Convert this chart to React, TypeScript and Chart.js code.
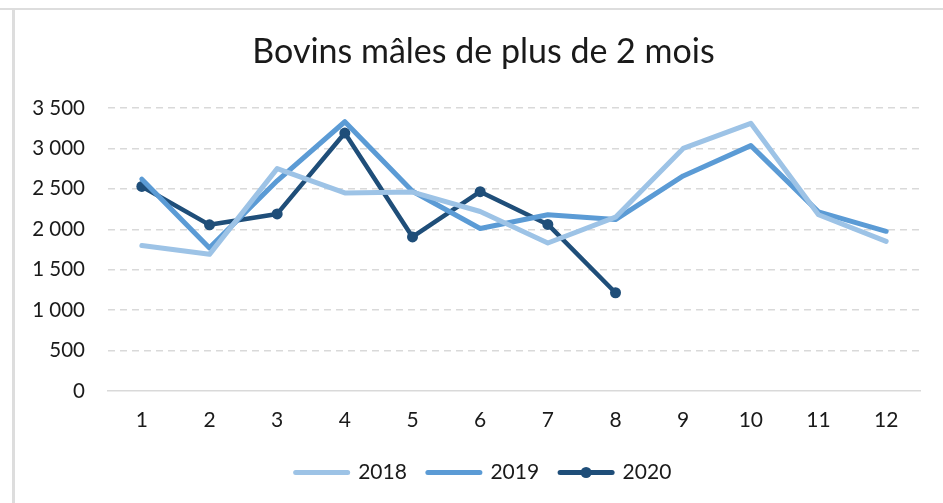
import React, { useEffect, useRef } from "react";
import { Chart, registerables } from "chart.js";

Chart.register(...registerables);

const categories = ["1", "2", "3", "4", "5", "6", "7", "8", "9", "10", "11", "12"];
const series2018 = [1800, 1690, 2750, 2450, 2460, 2220, 1830, 2150, 3000, 3310, 2180, 1850];
const series2019 = [2620, 1770, 2600, 3330, 2470, 2010, 2180, 2120, 2660, 3035, 2215, 1975];
const series2020 = [2530, 2055, 2190, 3190, 1905, 2465, 2060, 1215];
const seriesLabels = ["2018", "2019", "2020"];
const seriesColors = ["#9DC3E6", "#5B9BD5", "#1F4E79"];
const titleText = "Bovins mâles de plus de 2 mois";

const FONT = "Lato, 'Open Sans', sans-serif";
const TEXT = "#1a1a1a";
const CENTER_SHIFT = 47;

const fmt = (v: number) => String(v).replace(/\B(?=(\d{3})+(?!\d))/g, " ");

const recenter = {
  id: "recenter",
  afterLayout(chart: any) {
    if (chart.titleBlock) chart.titleBlock.left += CENTER_SHIFT;
    if (chart.legend) chart.legend.left += CENTER_SHIFT;
  },
  afterDraw(chart: any) {
    const legend = chart.legend;
    if (!legend || !legend.legendHitBoxes) return;
    const box = legend.legendHitBoxes[2];
    if (!box) return;
    const lab = legend.options.labels;
    const bw = lab.pointStyleWidth;
    const cy = legend.top + lab.padding + box.height / 2;
    const ctx = chart.ctx;
    ctx.save();
    ctx.fillStyle = seriesColors[2];
    ctx.beginPath();
    ctx.arc(box.left + bw / 2, cy, 5.5, 0, Math.PI * 2);
    ctx.fill();
    ctx.restore();
  },
};

export default function App() {
  const ref = useRef<HTMLCanvasElement | null>(null);
  useEffect(() => {
    if (!ref.current) return;
    const chart = new Chart(ref.current, {
      type: "line",
      data: {
        labels: categories,
        datasets: [
          {
            label: seriesLabels[0],
            data: series2018,
            borderColor: seriesColors[0],
            backgroundColor: seriesColors[0],
            borderWidth: 5,
            pointRadius: 0,
            borderCapStyle: "round",
            borderJoinStyle: "round",
          },
          {
            label: seriesLabels[1],
            data: series2019,
            borderColor: seriesColors[1],
            backgroundColor: seriesColors[1],
            borderWidth: 5,
            pointRadius: 0,
            borderCapStyle: "round",
            borderJoinStyle: "round",
          },
          {
            label: seriesLabels[2],
            data: series2020,
            borderColor: seriesColors[2],
            backgroundColor: seriesColors[2],
            borderWidth: 4.5,
            pointRadius: 5.5,
            pointBorderWidth: 0,
            pointBackgroundColor: seriesColors[2],
            pointStyle: "circle",
            borderCapStyle: "round",
            borderJoinStyle: "round",
          },
        ],
      },
      options: {
        animation: false,
        responsive: false,
        maintainAspectRatio: false,
        layout: { padding: { left: 0, right: 23, top: 0, bottom: 10 } },
        plugins: {
          tooltip: { enabled: false },
          title: {
            display: true,
            text: titleText,
            color: TEXT,
            font: { family: FONT, size: 34, weight: "normal" },
            padding: { top: 31.5, bottom: 35.7 },
          },
          legend: {
            position: "bottom",
            labels: {
              usePointStyle: true,
              pointStyleWidth: 52,
              boxHeight: 5,
              padding: 21,
              color: TEXT,
              font: { family: FONT, size: 21 },
              generateLabels: (chart: any) =>
                chart.data.datasets.map((ds: any, i: number) => ({
                  text: ds.label,
                  fillStyle: ds.borderColor,
                  strokeStyle: ds.borderColor,
                  lineWidth: 5,
                  lineCap: "round",
                  pointStyle: "line",
                  hidden: false,
                  datasetIndex: i,
                  fontColor: TEXT,
                })),
            },
          },
        },
        scales: {
          x: {
            offset: true,
            grid: { display: false, drawTicks: false },
            border: { display: true, color: "#D9D9D9", width: 1.5 },
            ticks: { color: TEXT, font: { family: FONT, size: 21 }, padding: 17, maxRotation: 0 },
            afterFit: (s: any) => {
              s.height = 50;
            },
          },
          y: {
            min: 0,
            max: 3500,
            ticks: {
              stepSize: 500,
              color: TEXT,
              font: { family: FONT, size: 20.5 },
              padding: 23,
              callback: (v: any) => fmt(Number(v)),
            },
            grid: {
              drawTicks: false,
              color: (c: any) => (c.tick && c.tick.value === 0 ? "rgba(0,0,0,0)" : "#D9D9D9"),
              lineWidth: 1.5,
            },
            border: { display: false, dash: [7, 5] },
            afterFit: (s: any) => {
              s.width = 108;
            },
          },
        },
      },
      plugins: [recenter],
    } as any);
    return () => chart.destroy();
  }, []);

  return (
    <div style={{ position: "fixed", left: 0, top: 0, width: 943, height: 503, background: "#fff" }}>
      <div style={{ position: "absolute", left: 0, top: 8, width: 943, height: 2, background: "#DDDDDD" }} />
      <div style={{ position: "absolute", left: 12, top: 8, width: 3, height: 495, background: "#DDDDDD" }} />
      <canvas ref={ref} width={943} height={503} style={{ position: "absolute", left: 0, top: 0, width: 943, height: 503 }} />
    </div>
  );
}
